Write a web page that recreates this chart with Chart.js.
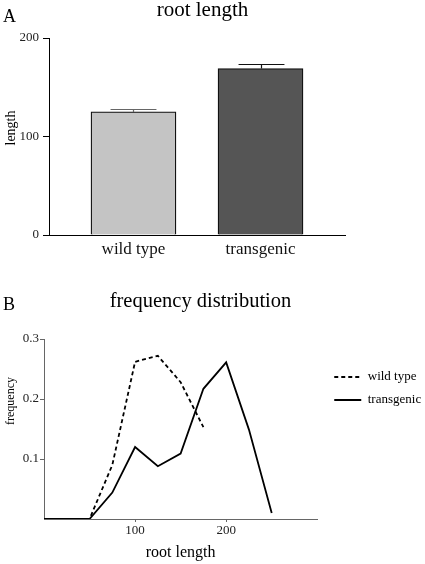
<!DOCTYPE html>
<html>
<head>
<meta charset="utf-8">
<script src="https://cdn.jsdelivr.net/npm/chart.js@4.4.0/dist/chart.umd.min.js"></script>
<style>
  body { margin: 0; background: #fff; width: 425px; height: 564px; position: relative; overflow: hidden;
         font-family: "Liberation Serif", "Times New Roman", serif; color: #000; }
  canvas { position: absolute; left: 0; }
  .txt { position: absolute; line-height: 1; white-space: nowrap; }
  .rot { transform: translate(-50%, -50%) rotate(-90deg); }
</style>
</head>
<body>
<canvas id="chartA" width="425" height="268" style="top:0"></canvas>
<canvas id="chartB" width="425" height="296" style="top:268px"></canvas>

<div class="txt" style="left:3px; top:7px; font-size:18px">A</div>
<div class="txt" style="left:0; width:405px; text-align:center; top:-1px; font-size:21px">root length</div>
<div class="txt rot" style="left:11px; top:128px; font-size:14px">length</div>

<div class="txt" style="left:3px; top:295px; font-size:18px">B</div>
<div class="txt" style="left:0; width:401px; text-align:center; top:290px; font-size:20.5px">frequency distribution</div>
<div class="txt rot" style="left:10px; top:401px; font-size:12px">frequency</div>

<script>
// panel A - mean root length with error
const barCategories = ['wild type', 'transgenic'];
const barPositions = [1, 2];
const meanLength = [125, 169];
const lengthError = [3, 4.5];
const lengthTicks = [0, 100, 200];

// panel B - frequency distribution
const rootLengthBins = [0, 25, 50, 75, 100, 125, 150, 175, 200, 225, 250];
const wildTypeFreq = [0, 0, 0, 0.09, 0.262, 0.272, 0.228, 0.153];
const transgenicFreq = [0, 0, 0, 0.044, 0.12, 0.088, 0.109, 0.217, 0.261, 0.149, 0.01];
const seriesNames = ['wild type', 'transgenic'];
const freqTicks = [0.1, 0.2, 0.3];
const rootTicks = [100, 200];

const serif = '"Liberation Serif", "Times New Roman", serif';
Chart.defaults.font.family = serif;
Chart.defaults.color = '#111';

// draws the upper error bar on top of each bar
const errorBars = {
    id: 'errorBars',
    afterDatasetsDraw(chart) {
        const ctx = chart.ctx;
        const yScale = chart.scales.y;
        const capColors = ['#666', '#111'];
        chart.getDatasetMeta(0).data.forEach((bar, i) => {
            const top = Math.round(yScale.getPixelForValue(meanLength[i] + lengthError[i])) + 0.5;
            const half = bar.width * 0.27;
            const x = Math.round(bar.x) + 0.5;
            ctx.save();
            ctx.strokeStyle = capColors[i];
            ctx.lineWidth = 1.2;
            ctx.beginPath();
            ctx.moveTo(x, bar.y);
            ctx.lineTo(x, top);
            ctx.moveTo(x - half, top);
            ctx.lineTo(x + half, top);
            ctx.stroke();
            ctx.restore();
        });
    }
};

// nudge the legend a little to the right, closer to the canvas edge
const legendShift = {
    id: 'legendShift',
    afterLayout(chart) {
        chart.legend.left += 7;
        chart.legend.right += 7;
    }
};

new Chart(document.getElementById('chartA'), {
    type: 'bar',
    data: {
        datasets: [{
            data: barPositions.map((x, i) => ({ x: x, y: meanLength[i] })),
            backgroundColor: ['#c4c4c4', '#555555'],
            borderColor: '#111',
            borderWidth: 1.3,
            barThickness: 85
        }]
    },
    options: {
        responsive: false,
        animation: false,
        layout: { padding: { top: 38, right: 80, left: 0, bottom: 0 } },
        plugins: { legend: { display: false }, tooltip: { enabled: false } },
        scales: {
            x: {
                type: 'linear',
                min: 0.335,
                max: 2.665,
                offset: false,
                afterBuildTicks: s => { s.ticks = barPositions.map(v => ({ value: v })); },
                afterFit: s => { s.height = 33; },
                grid: { drawOnChartArea: false, drawTicks: false, offset: false },
                border: { display: true, color: '#000', width: 1 },
                ticks: {
                    padding: 4,
                    color: '#111',
                    font: { size: 17 },
                    maxRotation: 0,
                    autoSkip: false,
                    callback: v => barCategories[barPositions.indexOf(v)]
                }
            },
            y: {
                min: 0,
                max: 200,
                afterBuildTicks: s => { s.ticks = lengthTicks.map(v => ({ value: v })); },
                afterFit: s => { s.width = 49; },
                grid: { drawOnChartArea: false, drawTicks: true, tickLength: 6, tickColor: '#000', tickWidth: 1 },
                border: { display: true, color: '#000', width: 1 },
                ticks: { padding: 4, color: '#222', font: { size: 13 } }
            }
        }
    },
    plugins: [errorBars]
});

new Chart(document.getElementById('chartB'), {
    type: 'line',
    data: {
        datasets: [
            {
                label: seriesNames[0],
                data: wildTypeFreq.map((y, i) => ({ x: rootLengthBins[i], y: y })),
                borderColor: '#000',
                borderWidth: 1.8,
                borderDash: [4, 3],
                pointRadius: 0,
                tension: 0,
                fill: false
            },
            {
                label: seriesNames[1],
                data: transgenicFreq.map((y, i) => ({ x: rootLengthBins[i], y: y })),
                borderColor: '#000',
                borderWidth: 1.8,
                pointRadius: 0,
                tension: 0,
                fill: false
            }
        ]
    },
    options: {
        responsive: false,
        animation: false,
        layout: { padding: { top: 71, right: 2, left: 0, bottom: 0 } },
        plugins: {
            tooltip: { enabled: false },
            legend: {
                position: 'right',
                align: 'start',
                title: { display: true, text: '', font: { size: 10 }, padding: { top: 9.5, bottom: 0 } },
                labels: {
                    usePointStyle: true,
                    pointStyle: 'line',
                    pointStyleWidth: 27,
                    boxHeight: 13,
                    padding: 10,
                    color: '#000',
                    font: { size: 13 },
                    // point style legend doesn't pick up the dataset dash, so copy it over
                    generateLabels: chart => Chart.defaults.plugins.legend.labels.generateLabels(chart).map(item => {
                        const ds = chart.data.datasets[item.datasetIndex];
                        item.lineDash = ds.borderDash || [];
                        item.lineWidth = ds.borderWidth;
                        item.strokeStyle = ds.borderColor;
                        return item;
                    })
                }
            }
        },
        scales: {
            x: {
                type: 'linear',
                min: 0,
                max: 300,
                afterBuildTicks: s => { s.ticks = rootTicks.map(v => ({ value: v })); },
                afterFit: s => { s.height = 45; },
                grid: { drawOnChartArea: false, drawTicks: true, tickLength: 3, tickColor: '#666' },
                border: { display: true, color: '#666', width: 1 },
                ticks: { padding: 1, color: '#222', font: { size: 13 }, maxRotation: 0 },
                title: { display: true, text: 'root length', color: '#000', font: { size: 16 }, padding: { top: 0, bottom: 2 } }
            },
            y: {
                min: 0,
                max: 0.3,
                afterBuildTicks: s => { s.ticks = freqTicks.map(v => ({ value: v })); },
                afterFit: s => { s.width = 44; },
                grid: { drawOnChartArea: false, drawTicks: true, tickLength: 4, tickColor: '#666' },
                border: { display: true, color: '#666', width: 1 },
                ticks: { padding: 1, color: '#222', font: { size: 13 }, callback: v => v.toFixed(1) }
            }
        }
    },
    plugins: [legendShift]
});
</script>
</body>
</html>
